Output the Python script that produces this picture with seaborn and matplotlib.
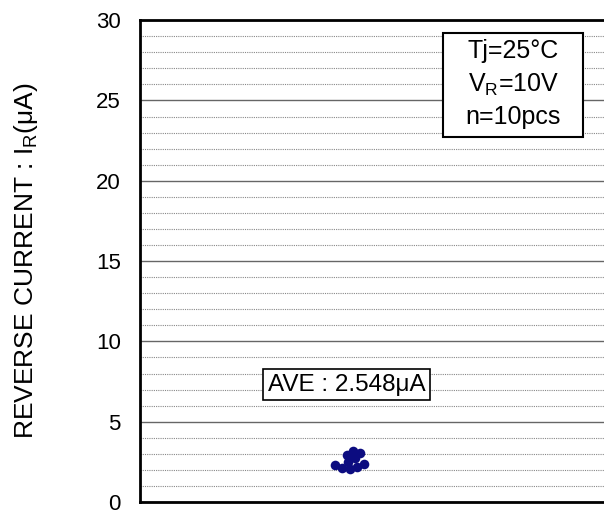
import numpy as np
import matplotlib
matplotlib.use("Agg")
import matplotlib.pyplot as plt
from matplotlib.patches import Rectangle
import seaborn as sns

# Data: reverse current of 10 samples (uA)
reverse_current = [3.20, 3.06, 2.94, 2.75, 2.50, 2.35, 2.20, 2.12, 2.06, 2.30]
average = 2.548
y_ticks = [0, 5, 10, 15, 20, 25, 30]
conditions = ["Tj=25°C", "V$_R$=10V", "n=10pcs"]

sns.set_style("white")
plt.rcParams['font.family'] = ['Liberation Sans', 'DejaVu Sans']
plt.rcParams['mathtext.default'] = 'regular'
plt.rcParams['text.color'] = 'black'
plt.rcParams['axes.labelcolor'] = 'black'
plt.rcParams['ytick.color'] = 'black'

fig = plt.figure(figsize=(6.04, 5.16), dpi=100)
ax = fig.add_axes([0.232, 0.027, 0.80, 0.934])

ax.set_ylim(0, 30)
ax.set_xlim(-0.434, 0.566)

# swarm laid out with medium dots, then drawn with bigger ones so they overlap
sns.swarmplot(y=reverse_current, ax=ax, color="#0c0c80", size=5.2, linewidth=0)
ax.set_xlim(-0.434, 0.566)
fig.canvas.draw()
for coll in ax.collections:
    if "draw" in coll.__dict__:
        del coll.draw
    coll.set_sizes([48])

ax.set_yticks(y_ticks)
ax.set_yticks(np.arange(0, 31, 1), minor=True)
ax.set_xticks([])
ax.set_xlabel("")
ax.tick_params(axis='y', which='both', length=0, labelsize=16, pad=14)

ax.yaxis.grid(True, which='major', color='#666666', linestyle='-', linewidth=1.0)
ax.yaxis.grid(True, which='minor', color='#888888', linestyle=(0, (1, 1)), linewidth=0.8)
ax.set_axisbelow(True)

for side in ['left', 'bottom', 'top']:
    ax.spines[side].set_color('black')
    ax.spines[side].set_linewidth(2)
ax.spines['right'].set_visible(False)

ax.set_ylabel("REVERSE CURRENT : I$_R$(μA)", fontsize=19, labelpad=40)

# condition box
trans = ax.get_yaxis_transform()
ax.add_patch(Rectangle((0.627, 22.75), 0.29, 6.44, transform=trans,
                       fc='white', ec='black', lw=1.5, zorder=3))
ax.text(0.772, 26.0, "\n".join(conditions), transform=trans,
        ha='center', va='center', fontsize=18, linespacing=1.4, zorder=4)

ax.text(0.427, 7.3, f"AVE : {average:.3f}μA", transform=trans,
        ha='center', va='center', fontsize=17.5, zorder=4,
        bbox=dict(boxstyle='square,pad=0.18', fc='white', ec='black', lw=1.2))

fig.savefig("out.png", dpi=100)
